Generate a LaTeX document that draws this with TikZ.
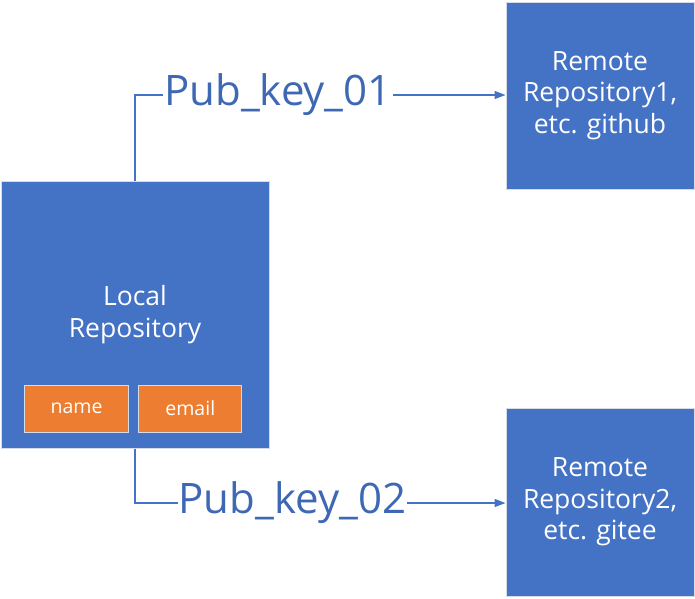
\documentclass[tikz,border=0pt]{standalone}
\usepackage{fontspec}
\setmainfont{Open Sans}
\usetikzlibrary{arrows.meta,positioning}
\definecolor{boxblue}{HTML}{4472C4}
\definecolor{keyblue}{HTML}{3E67B4}
\definecolor{fieldorange}{HTML}{ED7D31}
\definecolor{edgegrey}{HTML}{D5DCE8}

\begin{document}
\begin{tikzpicture}[x=1pt,y=-1pt,>={Triangle[length=11pt,width=8pt]},
    repo node/.style={rectangle,draw=edgegrey,line width=1pt,fill=boxblue,text=white,align=center,inner sep=0pt,font=\fontsize{26.5}{31.5}\selectfont},
    field node/.style={rectangle,draw=edgegrey,line width=0.8pt,fill=fieldorange,text=white,inner sep=0pt,minimum height=47pt,font=\fontsize{19.5}{22}\selectfont},
    key node/.style={inner sep=1pt,text=keyblue,font=\fontsize{42}{48}\selectfont},
    link/.style={draw=boxblue,line width=1.3pt}]

            \useasboundingbox (0,0) rectangle (695,598);

            \node[repo node, minimum width=268pt, minimum height=267pt] (local) at (135,314.5) {Local\\Repository};
            \node[field node, minimum width=104pt] (name) at (76.5,408.5) {name};
            \node[field node, minimum width=103pt] (email) [right=9.5pt of name] {email};
            \node[repo node, minimum width=188pt, minimum height=187pt] (remote1) at (600,95.5) {Remote\\Repository1,\\etc. github};
            \node[repo node, minimum width=188pt, minimum height=188pt] (remote2) at (600,502) {Remote\\Repository2,\\etc. gitee};

            \node[key node] (key1) at (278,95) {Pub\_key\_01};
            \node[key node] (key2) at (292.5,503) {Pub\_key\_02};

            \draw[link] (local.north) |- (key1.west);
            \draw[link,->] (key1.east) -- (key1.east -| remote1.west);
            \draw[link] (local.south) |- (key2.west);
            \draw[link,->] (key2.east) -- (key2.east -| remote2.west);

            ;
        \end{tikzpicture}
\end{document}
